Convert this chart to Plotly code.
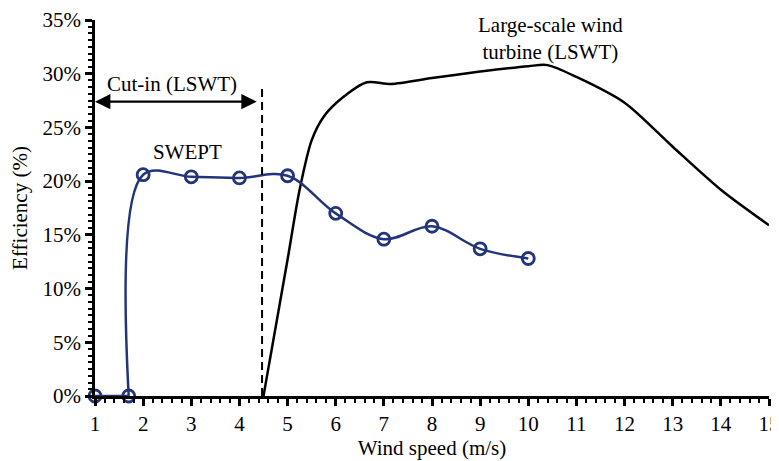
import plotly.graph_objects as go

# SWEPT measured efficiency
swept_x = [1, 1.7, 2, 3, 4, 5, 6, 7, 8, 9, 10]
swept_y = [0, 0, 20.6, 20.4, 20.3, 20.5, 17.0, 14.6, 15.8, 13.7, 12.8]

# Large-scale wind turbine efficiency curve
lswt_x = [4.5, 5.0, 5.25, 5.5, 5.75, 6.15, 6.65, 7.15, 8.0, 9.0, 10.0, 10.4, 11.0, 12.0, 13.0, 14.0, 15.0]
lswt_y = [0, 12.7, 19.2, 23.8, 26.0, 27.8, 29.2, 29.05, 29.6, 30.2, 30.7, 30.8, 29.7, 27.3, 23.2, 19.2, 15.9]

cutin_speed = 4.47
cutin_top = 28.7
arrow_y = 27.4
arrow_end = 4.39

SERIF = "Liberation Serif"
NAVY = "#22357a"
FS = 21

fig = go.Figure()
fig.add_trace(go.Scatter(
    x=lswt_x, y=lswt_y, mode="lines",
    line=dict(color="black", width=2.5, shape="spline", smoothing=0.8),
    cliponaxis=False, showlegend=False,
))
# flat part before the rise (straight)
fig.add_trace(go.Scatter(
    x=swept_x[:2], y=swept_y[:2], mode="lines",
    line=dict(color=NAVY, width=2.5),
    cliponaxis=False, showlegend=False,
))
# smoothed part
fig.add_trace(go.Scatter(
    x=swept_x[1:], y=swept_y[1:], mode="lines",
    line=dict(color=NAVY, width=2.5, shape="spline", smoothing=1.0),
    cliponaxis=False, showlegend=False,
))
fig.add_trace(go.Scatter(
    x=swept_x, y=swept_y, mode="markers",
    marker=dict(symbol="circle-open", size=12, color=NAVY, line=dict(width=2.8, color=NAVY)),
    cliponaxis=False, showlegend=False,
))

fig.add_shape(type="line", x0=cutin_speed, x1=cutin_speed, y0=0, y1=cutin_top,
              xref="x", yref="y", line=dict(color="black", width=2, dash="8px,5px"))

fig.add_annotation(x=1, y=arrow_y, ax=arrow_end, ay=arrow_y, xref="x", yref="y",
                   axref="x", ayref="y", text="", showarrow=True,
                   arrowhead=2, arrowside="end+start", arrowsize=1.4, arrowwidth=2.2,
                   arrowcolor="black")

fig.add_annotation(x=2.6, y=29.0, xref="x", yref="y", text="Cut-in (LSWT)",
                   showarrow=False, font=dict(family=SERIF, size=FS, color="black"))
fig.add_annotation(x=2.93, y=22.7, xref="x", yref="y", text="SWEPT",
                   showarrow=False, font=dict(family=SERIF, size=FS, color="black"))
fig.add_annotation(x=10.46, y=33.3, xref="x", yref="y",
                   text="Large-scale wind<br>turbine (LSWT)",
                   showarrow=False, align="center",
                   font=dict(family=SERIF, size=FS, color="black"))

# page has an 8px body margin, so the figure is shrunk/shifted to match
fig.update_layout(
    width=773, height=453,
    margin=dict(l=87, r=12, t=12, b=65),
    paper_bgcolor="white", plot_bgcolor="white",
    font=dict(family=SERIF, size=FS, color="black"),
    xaxis=dict(
        range=[1, 15], tickmode="linear", tick0=1, dtick=1, automargin=False,
        ticklabeloverflow="allow",
        showgrid=False, zeroline=False,
        showline=True, linecolor="black", linewidth=2.5,
        ticks="outside", ticklen=7, tickwidth=2.5, tickcolor="black",
        minor=dict(dtick=0.2, ticks="outside", ticklen=4, tickwidth=1.5, tickcolor="black", showgrid=False),
        title=dict(text="Wind speed (m/s)", standoff=6, font=dict(family=SERIF, size=FS)),
        tickfont=dict(family=SERIF, size=FS),
    ),
    yaxis=dict(
        range=[0, 35], tickmode="linear", tick0=0, dtick=5, ticksuffix="%", automargin=False,
        showgrid=False, zeroline=False,
        showline=True, linecolor="black", linewidth=2.5,
        ticks="outside", ticklen=7, tickwidth=2.5, tickcolor="black",
        minor=dict(dtick=0.625, ticks="outside", ticklen=4, tickwidth=1.5, tickcolor="black", showgrid=False),
        title=dict(text="Efficiency (%)", standoff=14, font=dict(family=SERIF, size=FS)),
        tickfont=dict(family=SERIF, size=FS),
    ),
)

fig.write_html("out.html")
